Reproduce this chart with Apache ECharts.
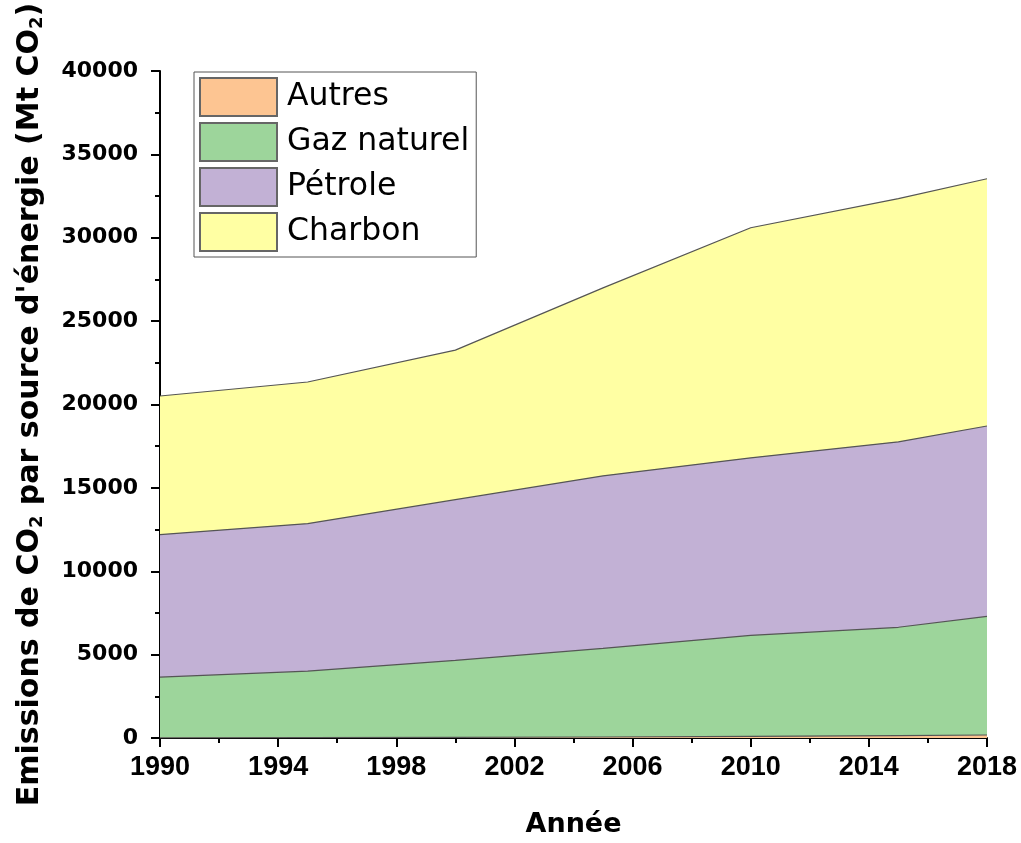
<!DOCTYPE html>
<html>
<head>
<meta charset="utf-8">
<script src="https://cdn.jsdelivr.net/npm/echarts@6/dist/echarts.min.js"></script>
<style>
  html, body { margin: 0; padding: 0; background: #fff; }
  #chart { width: 1021px; height: 843px; }
</style>
</head>
<body>
<div id="chart"></div>
<script>
// années des points de données
const years = [1990, 1995, 2000, 2005, 2010, 2015, 2018];
// Mt CO2 par source
const autres = [10, 20, 40, 60, 100, 140, 180];
const gaz = [3640, 3990, 4620, 5320, 6060, 6500, 7110];
const petrole = [8550, 8850, 9630, 10340, 10640, 11120, 11420];
const charbon = [8310, 8490, 8970, 11275, 13800, 14590, 14830];
const names = ["Autres", "Gaz naturel", "Pétrole", "Charbon"];
const colors = ["#fdc592", "#9dd59b", "#c2b1d5", "#ffffa3"];
const firstYear = 1990;

var chart = echarts.init(document.getElementById("chart"));

// stack "a la main" : avec deux axes value, le stack d'echarts empile sur x
var layers = [autres, gaz, petrole, charbon];
var cumul = [];
var run = years.map(() => 0);
layers.forEach(function (vals) {
  run = run.map((s, i) => s + vals[i]);
  cumul.push(run.slice());
});

function mkSeries(idx) {
  return {
    name: names[idx],
    type: "line",
    symbol: "none",
    lineStyle: { color: "#555", width: 1.2 },
    itemStyle: { color: colors[idx], borderColor: "#666", borderWidth: 1 },
    areaStyle: { color: colors[idx], opacity: 1 },
    data: years.map((y, i) => [y - firstYear, cumul[idx][i]])
  };
}

chart.setOption({
  animation: false,
  grid: { left: 160, right: 34, top: 71, bottom: 103 },
  legend: {
    orient: "vertical",
    left: 194,
    top: 72,
    padding: [5, 7, 5, 5],
    itemWidth: 77,
    itemHeight: 38,
    itemGap: 5,
    icon: "rect",
    borderColor: "#555",
    borderWidth: 1,
    data: names,
    textStyle: { fontFamily: "DejaVu Sans", fontSize: 31.5, color: "#000", padding: [0, 0, 0, 5] }
  },
  xAxis: {
    type: "value",
    min: 0,
    max: 28,
    interval: 4,
    name: "Année",
    nameLocation: "middle",
    nameGap: 73,
    nameTextStyle: { fontFamily: "DejaVu Sans", fontWeight: "bold", fontSize: 27, color: "#000" },
    axisLine: { lineStyle: { color: "#000", width: 2 } },
    axisTick: { length: 9, lineStyle: { color: "#000", width: 2 } },
    minorTick: { show: true, splitNumber: 2, length: 5, lineStyle: { color: "#000", width: 2 } },
    splitLine: { show: false },
    axisLabel: {
      margin: 16,
      fontFamily: "Liberation Sans",
      fontWeight: "bold",
      fontSize: 27,
      color: "#000",
      formatter: v => String(v + firstYear)
    }
  },
  yAxis: {
    type: "value",
    min: 0,
    max: 40000,
    interval: 5000,
    name: "{a|Emissions de CO}{s|2}{a| par source d'énergie (Mt CO}{s|2}{a|)}",
    nameLocation: "middle",
    nameGap: 114,
    nameTextStyle: {
      rich: {
        a: { fontFamily: "DejaVu Sans", fontWeight: "bold", fontSize: 30, color: "#000" },
        s: { fontFamily: "DejaVu Sans", fontWeight: "bold", fontSize: 18, color: "#000", padding: [14, 0, 0, 0] }
      }
    },
    axisLine: { show: true, lineStyle: { color: "#000", width: 2 } },
    axisTick: { show: true, length: 9, lineStyle: { color: "#000", width: 2 } },
    minorTick: { show: true, splitNumber: 2, length: 5, lineStyle: { color: "#000", width: 2 } },
    splitLine: { show: false },
    axisLabel: {
      margin: 22,
      fontFamily: "DejaVu Sans",
      fontWeight: "bold",
      fontSize: 22,
      color: "#000",
      formatter: v => String(v)
    }
  },
  // ordre de dessin : la couche la plus haute d'abord
  series: [mkSeries(3), mkSeries(2), mkSeries(1), mkSeries(0)]
});
</script>
</body>
</html>
